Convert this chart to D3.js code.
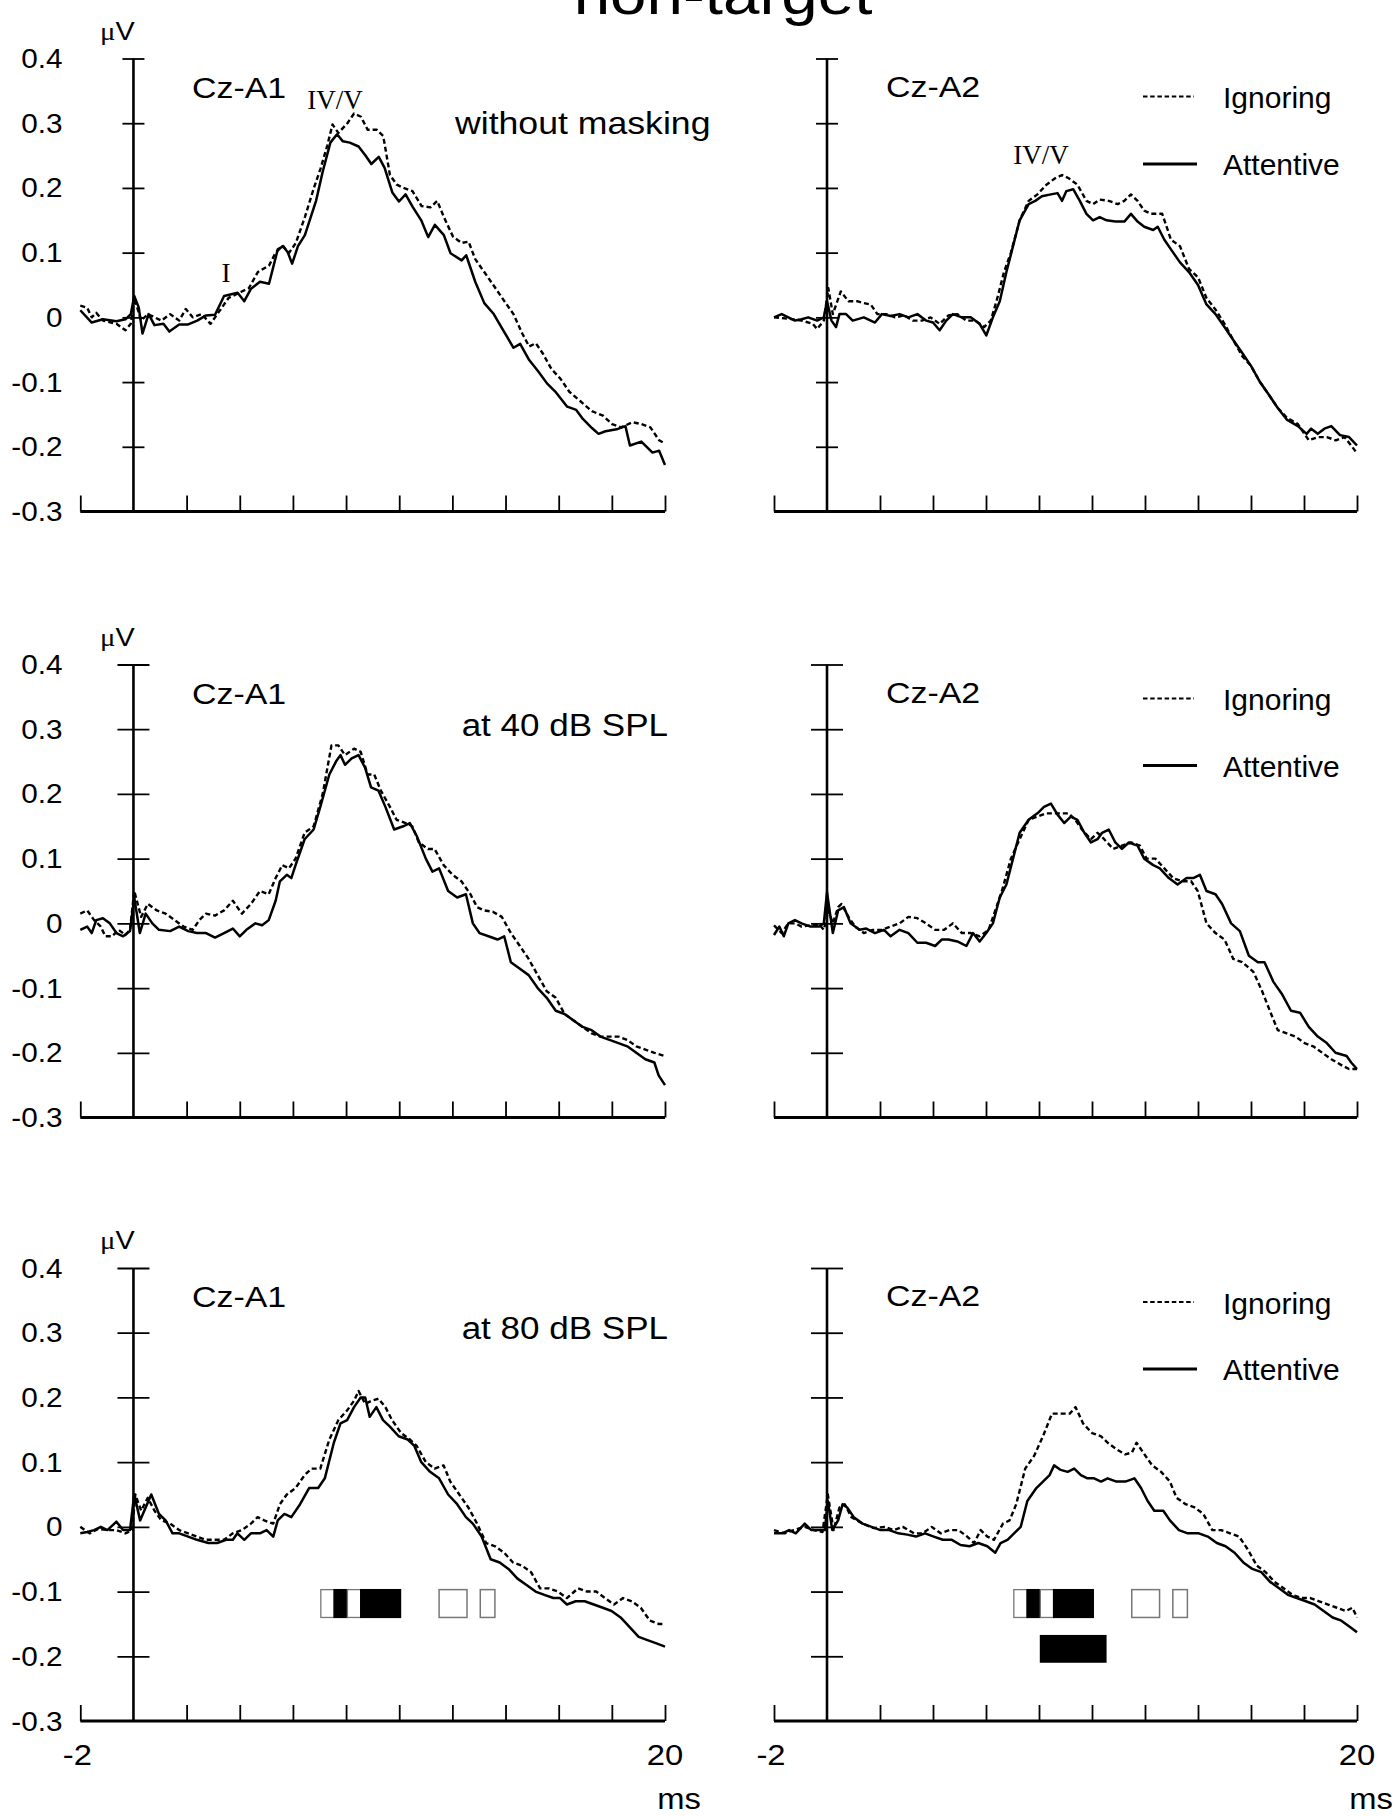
<!DOCTYPE html>
<html><head><meta charset="utf-8">
<script src="https://cdn.jsdelivr.net/npm/d3@7/dist/d3.min.js"></script>
<style>body{margin:0;background:#fff}svg{display:block}</style>
</head><body>
<script>
// ---------- DATA (time in ms, amplitude in µV) ----------
const yTicks = [0.4, 0.3, 0.2, 0.1, 0, -0.1, -0.2, -0.3];
const yTickLabels = ["0.4","0.3","0.2","0.1","0","-0.1","-0.2","-0.3"];
const xTicks = [-2,0,2,4,6,8,10,12,14,16,18,20];
const xEndLabels = ["-2","20"];
const conditions = ["without masking","at 40 dB SPL","at 80 dB SPL"];
const derivations = ["Cz-A1","Cz-A2"];
const seriesNames = ["Ignoring","Attentive"];

const a1NoMaskAtt = [[-2,0.011],[-1.57,-0.008],[-1.15,-0.003],[-0.64,-0.006],[-0.3,-0.003],[-0.1,0.005],[0.03,0.033],[0.2,0.015],[0.34,-0.025],[0.57,0.005],[0.79,-0.012],[1.13,-0.01],[1.35,-0.022],[1.72,-0.011],[2.06,-0.011],[2.4,-0.005],[2.73,0.003],[3.07,0.004],[3.41,0.033],[3.92,0.038],[4.17,0.025],[4.42,0.044],[4.76,0.055],[5.1,0.052],[5.43,0.105],[5.64,0.11],[5.81,0.1],[5.97,0.083],[6.19,0.11],[6.45,0.127],[6.87,0.18],[7.12,0.225],[7.41,0.27],[7.66,0.283],[7.88,0.272],[8.14,0.27],[8.47,0.264],[8.73,0.25],[8.95,0.237],[9.23,0.248],[9.45,0.231],[9.74,0.193],[9.99,0.179],[10.24,0.19],[10.5,0.171],[10.84,0.149],[11.09,0.124],[11.34,0.143],[11.68,0.127],[11.93,0.099],[12.35,0.088],[12.52,0.096],[12.86,0.055],[13.2,0.022],[13.54,0.006],[13.87,-0.017],[14.3,-0.047],[14.55,-0.041],[14.89,-0.066],[15.22,-0.083],[15.56,-0.102],[15.9,-0.116],[16.32,-0.138],[16.66,-0.143],[16.91,-0.157],[17.25,-0.171],[17.5,-0.18],[17.76,-0.176],[18.18,-0.173],[18.51,-0.168],[18.68,-0.198],[19.11,-0.192],[19.53,-0.209],[19.78,-0.206],[20,-0.228]];
const a1NoMaskIgn = [[-2,0.018],[-1.74,0.015],[-1.57,0.0],[-1.4,0.007],[-1.15,-0.005],[-0.64,-0.01],[-0.3,-0.02],[-0.1,-0.01],[0.03,0.03],[0.29,-0.005],[0.54,0.005],[1.05,-0.005],[1.38,0.005],[1.72,-0.005],[1.97,0.013],[2.23,0.0],[2.57,0.005],[2.9,-0.01],[3.24,0.01],[3.58,0.03],[4.08,0.04],[4.34,0.045],[4.68,0.07],[5.1,0.08],[5.35,0.1],[5.6,0.11],[5.86,0.1],[6.11,0.115],[6.45,0.155],[6.79,0.2],[7.04,0.23],[7.29,0.265],[7.49,0.298],[7.71,0.285],[8.05,0.3],[8.3,0.315],[8.56,0.31],[8.81,0.29],[9.15,0.29],[9.4,0.28],[9.65,0.22],[9.91,0.205],[10.16,0.2],[10.5,0.195],[10.84,0.172],[11.17,0.17],[11.43,0.18],[11.68,0.155],[12.02,0.125],[12.35,0.115],[12.61,0.117],[12.86,0.09],[13.2,0.07],[13.54,0.05],[13.87,0.03],[14.3,0.005],[14.63,-0.025],[14.89,-0.045],[15.14,-0.04],[15.39,-0.055],[15.73,-0.08],[16.07,-0.095],[16.4,-0.115],[16.83,-0.13],[17.25,-0.145],[17.67,-0.152],[18.01,-0.165],[18.35,-0.17],[18.78,-0.162],[19.11,-0.165],[19.45,-0.17],[19.78,-0.19],[20,-0.195]];

const a2NoMaskAtt = [[-2,0.0],[-1.71,0.005],[-1.46,0.0],[-1.21,-0.005],[-0.96,-0.003],[-0.71,0.0],[-0.37,-0.005],[-0.12,0.0],[0.0,0.025],[0.17,-0.005],[0.34,-0.015],[0.47,0.005],[0.72,0.005],[0.97,-0.005],[1.39,0.0],[1.81,-0.008],[2.07,0.005],[2.4,0.002],[2.74,0.005],[3.07,0.0],[3.41,0.005],[3.74,-0.005],[4.0,-0.008],[4.25,-0.02],[4.5,-0.005],[4.75,0.005],[5.09,0.0],[5.42,0.0],[5.76,-0.01],[6.01,-0.028],[6.26,0.0],[6.52,0.025],[6.77,0.07],[7.02,0.11],[7.27,0.15],[7.61,0.175],[7.86,0.18],[8.11,0.187],[8.45,0.19],[8.7,0.192],[8.87,0.18],[9.03,0.195],[9.29,0.198],[9.54,0.18],[9.79,0.16],[10.04,0.15],[10.29,0.155],[10.55,0.15],[10.88,0.148],[11.22,0.148],[11.47,0.16],[11.72,0.148],[11.97,0.14],[12.31,0.135],[12.48,0.14],[12.73,0.12],[12.98,0.105],[13.32,0.085],[13.66,0.07],[14.0,0.05],[14.32,0.02],[14.66,0.005],[15.0,-0.015],[15.33,-0.035],[15.67,-0.055],[16.0,-0.075],[16.34,-0.1],[16.68,-0.12],[17.01,-0.14],[17.35,-0.158],[17.77,-0.168],[18.1,-0.18],[18.27,-0.172],[18.52,-0.18],[18.77,-0.172],[19.03,-0.168],[19.36,-0.182],[19.7,-0.185],[20,-0.198]];
const a2NoMaskIgn = [[-2,0.0],[-1.46,-0.002],[-0.96,-0.005],[-0.54,-0.01],[-0.37,-0.018],[-0.12,-0.005],[0.05,0.045],[0.22,0.005],[0.52,0.04],[0.81,0.025],[1.14,0.025],[1.39,0.022],[1.65,0.02],[1.9,0.005],[2.23,0.005],[2.57,0.0],[2.91,0.003],[3.24,-0.005],[3.58,-0.005],[3.91,0.0],[4.25,-0.01],[4.58,0.003],[4.92,0.005],[5.26,-0.005],[5.59,-0.005],[5.93,-0.015],[6.18,-0.005],[6.43,0.03],[6.68,0.07],[6.94,0.1],[7.27,0.15],[7.61,0.18],[7.94,0.19],[8.28,0.205],[8.61,0.215],[8.87,0.22],[9.12,0.215],[9.45,0.205],[9.79,0.18],[10.04,0.175],[10.29,0.182],[10.63,0.18],[10.97,0.175],[11.22,0.18],[11.47,0.19],[11.72,0.18],[11.97,0.165],[12.23,0.16],[12.65,0.16],[12.98,0.12],[13.32,0.11],[13.66,0.075],[14.0,0.062],[14.32,0.03],[14.66,0.012],[15.0,-0.01],[15.33,-0.035],[15.67,-0.06],[16.0,-0.075],[16.34,-0.1],[16.68,-0.12],[17.01,-0.14],[17.35,-0.155],[17.77,-0.165],[18.18,-0.19],[18.52,-0.185],[18.86,-0.185],[19.2,-0.19],[19.53,-0.185],[19.78,-0.198],[20,-0.21]];

const a1Mask40Att = [[-2,-0.01],[-1.74,-0.005],[-1.57,-0.015],[-1.4,0.005],[-1.15,0.008],[-0.89,0.0],[-0.64,-0.015],[-0.39,-0.02],[-0.13,-0.012],[0.03,0.04],[0.24,-0.015],[0.46,0.015],[0.71,0.0],[0.96,-0.01],[1.38,-0.012],[1.72,-0.005],[2.06,-0.012],[2.39,-0.015],[2.73,-0.015],[3.07,-0.022],[3.41,-0.015],[3.74,-0.008],[4.0,-0.02],[4.25,-0.01],[4.59,0.0],[4.84,-0.003],[5.09,0.005],[5.35,0.035],[5.51,0.065],[5.77,0.075],[5.94,0.07],[6.1,0.09],[6.44,0.13],[6.78,0.145],[7.03,0.18],[7.37,0.23],[7.62,0.25],[7.79,0.26],[7.96,0.245],[8.21,0.255],[8.47,0.26],[8.72,0.24],[8.94,0.21],[9.22,0.205],[9.48,0.18],[9.81,0.145],[10.15,0.15],[10.4,0.155],[10.66,0.135],[11.0,0.1],[11.25,0.08],[11.5,0.085],[11.84,0.05],[12.18,0.04],[12.51,0.045],[12.77,0.0],[13.02,-0.015],[13.36,-0.02],[13.7,-0.025],[13.95,-0.02],[14.2,-0.06],[14.54,-0.07],[14.87,-0.08],[15.21,-0.1],[15.55,-0.115],[15.89,-0.135],[16.22,-0.14],[16.56,-0.15],[16.9,-0.16],[17.24,-0.165],[17.57,-0.175],[17.91,-0.18],[18.25,-0.185],[18.58,-0.19],[18.92,-0.2],[19.26,-0.21],[19.6,-0.215],[19.76,-0.235],[20,-0.25]];
const a1Mask40Ign = [[-2,0.015],[-1.74,0.02],[-1.48,0.005],[-1.23,-0.005],[-1.06,-0.02],[-0.81,-0.02],[-0.56,-0.01],[-0.3,-0.018],[-0.13,-0.01],[0.03,0.05],[0.29,0.01],[0.54,0.03],[0.88,0.02],[1.21,0.015],[1.55,0.005],[1.89,-0.005],[2.23,-0.01],[2.48,0.005],[2.73,0.015],[3.07,0.012],[3.41,0.02],[3.74,0.035],[4.08,0.015],[4.42,0.03],[4.76,0.05],[5.09,0.045],[5.35,0.07],[5.6,0.09],[5.85,0.085],[6.1,0.1],[6.44,0.14],[6.78,0.15],[7.12,0.2],[7.45,0.275],[7.71,0.275],[7.96,0.26],[8.3,0.27],[8.55,0.265],[8.81,0.23],[9.06,0.23],[9.31,0.205],[9.65,0.18],[9.9,0.16],[10.24,0.155],[10.49,0.15],[10.74,0.125],[11.08,0.115],[11.33,0.115],[11.67,0.09],[12.01,0.075],[12.34,0.065],[12.68,0.045],[12.93,0.025],[13.19,0.02],[13.52,0.018],[13.86,0.01],[14.2,-0.015],[14.54,-0.035],[14.87,-0.055],[15.21,-0.08],[15.55,-0.105],[15.89,-0.115],[16.22,-0.14],[16.56,-0.15],[16.9,-0.16],[17.24,-0.17],[17.57,-0.175],[17.91,-0.175],[18.25,-0.175],[18.58,-0.18],[18.92,-0.19],[19.26,-0.195],[19.6,-0.2],[20,-0.205]];

const a2Mask40Att = [[-2,-0.018],[-1.8,-0.005],[-1.63,-0.02],[-1.46,0.0],[-1.21,0.005],[-0.96,0.0],[-0.62,-0.005],[-0.29,-0.005],[-0.12,0.0],[0.0,0.048],[0.22,-0.015],[0.42,0.02],[0.64,0.025],[0.89,0.0],[1.23,-0.01],[1.48,-0.008],[1.81,-0.015],[2.15,-0.01],[2.4,-0.02],[2.74,-0.01],[3.07,-0.015],[3.41,-0.03],[3.74,-0.03],[4.08,-0.035],[4.33,-0.025],[4.58,-0.025],[4.92,-0.028],[5.26,-0.035],[5.51,-0.015],[5.76,-0.028],[6.01,-0.015],[6.26,0.0],[6.52,0.04],[6.77,0.06],[7.02,0.1],[7.27,0.14],[7.61,0.16],[7.94,0.17],[8.19,0.18],[8.45,0.185],[8.7,0.168],[8.95,0.155],[9.2,0.165],[9.45,0.16],[9.71,0.14],[9.96,0.125],[10.21,0.13],[10.38,0.14],[10.63,0.145],[10.88,0.125],[11.13,0.115],[11.39,0.125],[11.72,0.12],[11.97,0.1],[12.31,0.09],[12.56,0.085],[12.9,0.07],[13.23,0.06],[13.57,0.07],[13.82,0.07],[14.07,0.075],[14.32,0.05],[14.66,0.045],[14.91,0.03],[15.25,0.0],[15.58,-0.012],[15.92,-0.05],[16.26,-0.06],[16.51,-0.06],[16.84,-0.09],[17.18,-0.11],[17.51,-0.135],[17.85,-0.138],[18.18,-0.16],[18.52,-0.175],[18.86,-0.185],[19.19,-0.2],[19.61,-0.205],[19.78,-0.215],[20,-0.225]];
const a2Mask40Ign = [[-2,-0.003],[-1.71,-0.015],[-1.46,0.0],[-1.21,0.0],[-0.96,-0.005],[-0.62,-0.003],[-0.29,-0.002],[-0.12,-0.01],[0.05,0.02],[0.22,0.0],[0.42,0.025],[0.55,0.03],[0.81,0.01],[1.06,-0.005],[1.39,-0.015],[1.73,-0.01],[2.07,-0.01],[2.4,-0.005],[2.74,0.0],[3.07,0.01],[3.41,0.008],[3.74,0.0],[4.08,-0.01],[4.42,-0.01],[4.75,0.0],[5.09,-0.015],[5.42,-0.015],[5.76,-0.02],[6.1,-0.01],[6.35,0.02],[6.6,0.05],[6.94,0.1],[7.27,0.13],[7.61,0.16],[7.94,0.165],[8.28,0.17],[8.53,0.17],[8.78,0.17],[9.12,0.17],[9.37,0.16],[9.62,0.145],[9.96,0.13],[10.21,0.14],[10.46,0.13],[10.8,0.115],[11.13,0.12],[11.47,0.125],[11.81,0.12],[12.06,0.1],[12.39,0.1],[12.73,0.085],[13.06,0.07],[13.4,0.065],[13.74,0.065],[13.99,0.05],[14.32,0.0],[14.66,-0.015],[15.0,-0.025],[15.33,-0.055],[15.67,-0.06],[16.09,-0.075],[16.42,-0.105],[16.76,-0.14],[17.01,-0.165],[17.35,-0.17],[17.68,-0.175],[18.02,-0.185],[18.35,-0.19],[18.69,-0.2],[19.03,-0.21],[19.45,-0.22],[19.7,-0.225],[20,-0.225]];

const a1Mask80Att = [[-2,-0.01],[-1.74,-0.008],[-1.48,-0.005],[-1.23,0.0],[-0.98,-0.005],[-0.64,0.008],[-0.39,-0.005],[-0.13,-0.005],[0.03,0.05],[0.25,0.01],[0.46,0.03],[0.67,0.05],[0.96,0.02],[1.21,0.01],[1.47,-0.01],[1.72,-0.01],[2.06,-0.015],[2.39,-0.02],[2.82,-0.025],[3.15,-0.025],[3.49,-0.02],[3.74,-0.02],[3.91,-0.01],[4.17,-0.02],[4.42,-0.01],[4.76,-0.01],[5.01,-0.005],[5.26,-0.015],[5.43,0.01],[5.68,0.02],[5.94,0.015],[6.27,0.035],[6.61,0.06],[6.95,0.06],[7.2,0.075],[7.54,0.13],[7.79,0.16],[8.04,0.165],[8.3,0.185],[8.55,0.2],[8.72,0.2],[8.89,0.17],[9.14,0.185],[9.39,0.165],[9.65,0.155],[9.98,0.14],[10.32,0.135],[10.57,0.125],[10.83,0.1],[11.16,0.085],[11.5,0.075],[11.84,0.05],[12.18,0.035],[12.51,0.015],[12.77,0.005],[13.1,-0.015],[13.44,-0.05],[13.78,-0.055],[14.11,-0.065],[14.45,-0.08],[14.79,-0.09],[15.13,-0.1],[15.46,-0.105],[15.8,-0.11],[16.05,-0.11],[16.31,-0.12],[16.64,-0.115],[16.98,-0.115],[17.32,-0.12],[17.66,-0.125],[17.99,-0.13],[18.33,-0.14],[18.67,-0.155],[19.01,-0.17],[19.34,-0.175],[19.68,-0.18],[20,-0.185]];
const a1Mask80Ign = [[-2,0.0],[-1.65,-0.01],[-1.32,-0.003],[-0.98,-0.005],[-0.64,-0.005],[-0.3,-0.01],[-0.05,-0.005],[0.07,0.05],[0.29,0.025],[0.54,0.045],[0.79,0.025],[1.05,0.01],[1.38,0.005],[1.72,-0.005],[2.06,-0.01],[2.39,-0.015],[2.73,-0.02],[3.07,-0.02],[3.41,-0.02],[3.74,-0.01],[4.08,-0.005],[4.42,0.005],[4.67,0.015],[4.92,0.01],[5.26,0.005],[5.51,0.035],[5.77,0.05],[6.1,0.06],[6.44,0.08],[6.7,0.09],[7.03,0.09],[7.37,0.135],[7.71,0.165],[8.04,0.18],[8.3,0.195],[8.47,0.21],[8.72,0.19],[8.97,0.195],[9.22,0.198],[9.48,0.185],[9.73,0.165],[10.07,0.145],[10.4,0.135],[10.66,0.125],[11.0,0.1],[11.33,0.09],[11.67,0.095],[11.92,0.07],[12.26,0.05],[12.6,0.03],[12.93,0.005],[13.27,-0.025],[13.61,-0.03],[13.95,-0.04],[14.28,-0.055],[14.62,-0.06],[14.96,-0.07],[15.3,-0.095],[15.63,-0.095],[15.97,-0.1],[16.31,-0.11],[16.73,-0.095],[17.07,-0.1],[17.41,-0.1],[17.74,-0.11],[18.08,-0.12],[18.42,-0.11],[18.75,-0.115],[19.09,-0.125],[19.43,-0.145],[19.76,-0.15],[20,-0.15]];

const a2Mask80Att = [[-2,-0.01],[-1.68,-0.01],[-1.43,-0.005],[-1.18,-0.01],[-0.84,0.005],[-0.59,-0.005],[-0.34,-0.005],[-0.08,-0.005],[0.03,0.04],[0.2,-0.005],[0.42,0.01],[0.59,0.035],[0.76,0.03],[1.01,0.015],[1.34,0.005],[1.68,0.0],[2.02,-0.005],[2.35,-0.005],[2.69,-0.01],[3.03,-0.012],[3.36,-0.015],[3.7,-0.01],[4.03,-0.015],[4.37,-0.02],[4.71,-0.02],[5.04,-0.028],[5.38,-0.03],[5.71,-0.025],[6.05,-0.03],[6.35,-0.04],[6.55,-0.025],[6.81,-0.02],[7.06,-0.01],[7.31,0.0],[7.56,0.04],[7.9,0.06],[8.15,0.07],[8.4,0.08],[8.57,0.095],[8.82,0.088],[9.08,0.085],[9.33,0.09],[9.58,0.08],[9.83,0.075],[10.08,0.075],[10.34,0.07],[10.59,0.075],[10.92,0.07],[11.26,0.07],[11.6,0.075],[11.85,0.06],[12.1,0.04],[12.35,0.025],[12.69,0.025],[12.94,0.01],[13.28,-0.005],[13.61,-0.01],[14.03,-0.01],[14.37,-0.015],[14.71,-0.025],[15.04,-0.03],[15.38,-0.04],[15.71,-0.055],[16.05,-0.065],[16.39,-0.07],[16.72,-0.085],[17.06,-0.095],[17.39,-0.105],[17.73,-0.11],[18.07,-0.115],[18.4,-0.12],[18.74,-0.13],[19.08,-0.14],[19.41,-0.145],[19.75,-0.155],[20,-0.163]];
const a2Mask80Ign = [[-2,-0.005],[-1.6,-0.01],[-1.26,-0.005],[-0.84,0.0],[-0.5,-0.005],[-0.17,-0.008],[0.03,0.05],[0.25,-0.005],[0.47,0.03],[0.67,0.035],[0.92,0.015],[1.34,0.005],[1.76,-0.002],[2.18,0.0],[2.52,-0.005],[2.86,0.0],[3.28,-0.01],[3.61,-0.01],[3.95,0.0],[4.29,-0.01],[4.62,-0.005],[4.96,-0.005],[5.29,-0.015],[5.55,-0.025],[5.8,-0.005],[6.05,-0.015],[6.3,-0.02],[6.64,0.005],[6.89,0.01],[7.14,0.035],[7.48,0.09],[7.82,0.11],[8.15,0.14],[8.49,0.175],[8.82,0.175],[9.16,0.175],[9.38,0.185],[9.66,0.16],[10.0,0.145],[10.34,0.14],[10.59,0.13],[10.92,0.12],[11.26,0.112],[11.51,0.115],[11.68,0.13],[11.93,0.115],[12.27,0.095],[12.61,0.085],[12.94,0.07],[13.19,0.045],[13.53,0.035],[13.87,0.03],[14.2,0.02],[14.54,-0.005],[14.87,-0.005],[15.21,-0.01],[15.55,-0.015],[15.88,-0.035],[16.22,-0.06],[16.55,-0.07],[16.89,-0.085],[17.23,-0.095],[17.56,-0.105],[17.9,-0.11],[18.24,-0.11],[18.57,-0.115],[18.91,-0.12],[19.24,-0.125],[19.58,-0.13],[19.83,-0.125],[20,-0.14]];

// significance markers (ms ranges, µV ranges, fill)
const sigRow1 = [[7.05,7.55,"white"],[7.55,8.05,"black"],[8.05,8.55,"white"],[8.55,10.05,"black"]];
const sigBoxes = [[11.5,12.55],[13.05,13.6]];
const sigRow1V = [-0.097,-0.14];
const sigRow2 = [[8.03,10.55]];
const sigRow2V = [-0.167,-0.21];

// ---------- LAYOUT ----------
const W = 1396, H = 1816;
const svg = d3.select("body").append("svg").attr("width", W).attr("height", H)
  .style("font-family","'Liberation Sans', Arial, sans-serif");

const rowTops = [58.5, 664.5, 1268];
const panelH = 453;
const colX = [[80.3, 665], [774, 1357]];
const tickHalf = [11, 16, 16];
const legendOff = [[38, 105.5], [34, 101], [34, 101]];
const SX = 1.13; // horizontal stretch of the original lettering

function txt(g, x, y, s, size, anchor, family, sx) {
  return g.append("text")
    .attr("transform", `translate(${x},${y}) scale(${sx||SX},1)`)
    .attr("text-anchor", anchor || "start")
    .style("font-size", size + "px")
    .style("font-family", family || null)
    .text(s);
}

const panels = [
  {row:0,col:0,att:a1NoMaskAtt,ign:a1NoMaskIgn},
  {row:0,col:1,att:a2NoMaskAtt,ign:a2NoMaskIgn},
  {row:1,col:0,att:a1Mask40Att,ign:a1Mask40Ign},
  {row:1,col:1,att:a2Mask40Att,ign:a2Mask40Ign},
  {row:2,col:0,att:a1Mask80Att,ign:a1Mask80Ign},
  {row:2,col:1,att:a2Mask80Att,ign:a2Mask80Ign}
];

// title (partially cut off at the top of the page, as in the original)
txt(svg, 723, 14, "non-target", 58, "middle");

panels.forEach(p => {
  const g = svg.append("g");
  const x = d3.scaleLinear().domain([-2, 20]).range(colX[p.col]);
  const y = d3.scaleLinear().domain([-0.3, 0.4]).range([rowTops[p.row] + panelH, rowTops[p.row]]);

  // x axis
  const xAxis = d3.axisTop(x).tickValues(xTicks.filter(t => t !== 0)).tickSize(16).tickFormat("");
  const gx = g.append("g").attr("transform", `translate(0,${y(-0.3)})`).call(xAxis);
  gx.select(".domain").attr("d", `M${x(-2)},0H${x(20)}`).attr("stroke","#000").attr("stroke-width",3);
  gx.selectAll(".tick line").attr("stroke","#000").attr("stroke-width",1.8);

  // y axis at t = 0
  const yAxis = d3.axisLeft(y).tickValues(yTicks.slice(0, 7)).tickSize(tickHalf[p.row]).tickFormat("");
  const gy = g.append("g").attr("transform", `translate(${x(0)},0)`).call(yAxis);
  gy.select(".domain").attr("d", `M0,${y(0.4)}V${y(-0.3)}`).attr("stroke","#000").attr("stroke-width",2.6);
  gy.selectAll(".tick line").attr("x2", -tickHalf[p.row]).attr("x1", tickHalf[p.row])
    .attr("stroke","#000").attr("stroke-width",1.8);

  if (p.col === 0) {
    yTicks.forEach((v, i) => txt(g, 62.5, y(v) + 9.5, yTickLabels[i], 27, "end", null, 1.1));
    const mu = g.append("text").attr("transform", `translate(100,${y(0.4) - 19}) scale(1.15,1)`).style("font-size","25px");
    mu.append("tspan").style("font-family","'Liberation Serif', serif").text("μ");
    mu.append("tspan").text("V");
  }

  // series
  const line = d3.line().x(d => x(d[0])).y(d => y(d[1]));
  g.append("path").datum(p.ign).attr("d", line).attr("fill","none").attr("stroke","#000")
    .attr("stroke-width",2.4).attr("stroke-dasharray","5,3").attr("stroke-linejoin","round");
  g.append("path").datum(p.att).attr("d", line).attr("fill","none").attr("stroke","#000")
    .attr("stroke-width",2.5).attr("stroke-linejoin","round");

  // labels
  const top = rowTops[p.row];
  if (p.col === 0) {
    txt(g, 192, top + 39, derivations[0], 30, "start");
    if (p.row === 0) txt(g, 455, top + 75, conditions[0], 31, "start", null, 1.15);
    else txt(g, 668, top + 71, conditions[p.row], 31, "end");
  } else {
    txt(g, 886, top + 38, derivations[1], 30, "start");
    const ly1 = top + legendOff[p.row][0], ly2 = top + legendOff[p.row][1];
    g.append("line").attr("x1",1143).attr("x2",1194).attr("y1",ly1).attr("y2",ly1)
      .attr("stroke","#000").attr("stroke-width",2.2).attr("stroke-dasharray","4.5,2.7");
    g.append("line").attr("x1",1143).attr("x2",1197).attr("y1",ly2).attr("y2",ly2)
      .attr("stroke","#000").attr("stroke-width",3);
    txt(g, 1223, ly1 + 11.5, seriesNames[0], 30, "start", null, 1.0);
    txt(g, 1223, ly2 + 11, seriesNames[1], 30, "start", null, 1.0);
  }

  if (p.row === 0) {
    const fam = "'Liberation Serif', 'Times New Roman', serif";
    if (p.col === 0) {
      txt(g, 335, 109, "IV/V", 27, "middle", fam, 1.0);
      txt(g, 226, 282, "I", 27, "middle", fam, 1.0);
    } else {
      txt(g, 1041, 164, "IV/V", 27, "middle", fam, 1.0);
    }
  }

  if (p.row === 2) {
    // x end labels and unit
    txt(g, x(-2) - 3, y(-0.3) + 44, xEndLabels[0], 29, "middle");
    txt(g, x(20), y(-0.3) + 44, xEndLabels[1], 29, "middle");
    txt(g, x(20) + 14, y(-0.3) + 88, "ms", 29, "middle");

    // significance markers
    sigRow1.forEach(s => {
      g.append("rect").attr("x", x(s[0])).attr("width", x(s[1]) - x(s[0]))
        .attr("y", y(sigRow1V[0])).attr("height", y(sigRow1V[1]) - y(sigRow1V[0]))
        .attr("fill", s[2]).attr("stroke", s[2] === "white" ? "#777" : "#000").attr("stroke-width", 1.3);
    });
    sigBoxes.forEach(s => {
      g.append("rect").attr("x", x(s[0])).attr("width", x(s[1]) - x(s[0]))
        .attr("y", y(sigRow1V[0])).attr("height", y(sigRow1V[1]) - y(sigRow1V[0]))
        .attr("fill", "white").attr("stroke", "#777").attr("stroke-width", 1.5);
    });
    if (p.col === 1) {
      sigRow2.forEach(s => {
        g.append("rect").attr("x", x(s[0])).attr("width", x(s[1]) - x(s[0]))
          .attr("y", y(sigRow2V[0])).attr("height", y(sigRow2V[1]) - y(sigRow2V[0]))
          .attr("fill", "black");
      });
    }
  }
});
</script>
</body></html>
